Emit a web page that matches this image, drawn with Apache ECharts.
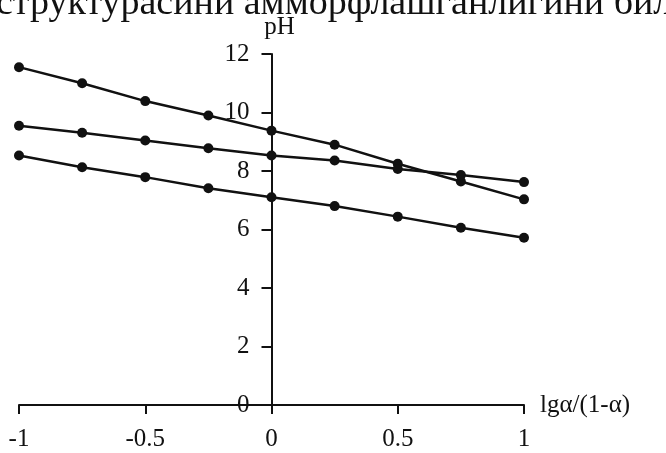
<!DOCTYPE html>
<html>
<head>
<meta charset="utf-8">
<script src="https://cdn.jsdelivr.net/npm/echarts@6/dist/echarts.min.js"></script>
<style>
  html, body { margin: 0; padding: 0; background: #fff; }
  #chart { width: 666px; height: 453px; }
</style>
</head>
<body>
<div id="chart"></div>
<script>
// lg α/(1-α) positions where pH was measured
const xValues = [-1, -0.75, -0.5, -0.25, 0, 0.25, 0.5, 0.75, 1];

// pH curves, one per sample
const phUpper  = [11.55, 11.0, 10.39, 9.9, 9.38, 8.9, 8.25, 7.64, 7.03];
const phMiddle = [9.55, 9.31, 9.04, 8.78, 8.53, 8.36, 8.07, 7.86, 7.62];
const phLower  = [8.53, 8.13, 7.79, 7.41, 7.10, 6.80, 6.44, 6.06, 5.72];

// axis ticks
const xTicks = [-1, -0.5, 0, 0.5, 1];
const yTicks = [0, 2, 4, 6, 8, 10, 12];

const headerText = 'структурасини амморфлашганлигини бил';

const serif = '"Liberation Serif", "Times New Roman", serif';
const ink = '#111';

const W = 666;
const grid = { left: 19, right: 142, top: 54, bottom: 48 };
const xMin = xTicks[0], xMax = xTicks[xTicks.length - 1];

// shift the pH axis from the grid's left edge to where x = 0 lies
const plotWidth = W - grid.left - grid.right;
const yAxisShift = -((0 - xMin) / (xMax - xMin)) * plotWidth;

function pairs(ys) {
  return xValues.map((x, i) => [x, ys[i]]);
}

function curve(ys) {
  return {
    type: 'line',
    data: pairs(ys),
    symbol: 'circle',
    symbolSize: 10,
    showAllSymbol: true,
    lineStyle: { color: ink, width: 2.5 },
    itemStyle: { color: ink },
    silent: true,
    animation: false
  };
}

const chart = echarts.init(document.getElementById('chart'), null, { renderer: 'canvas' });

chart.setOption({
  backgroundColor: '#fff',
  animation: false,
  grid: Object.assign({ containLabel: false, outerBoundsMode: 'none' }, grid),
  graphic: [{
    type: 'text',
    left: -4,
    top: -15,
    style: {
      text: headerText,
      font: '38px ' + serif,
      fill: ink
    }
  }],
  xAxis: {
    type: 'value',
    min: xMin,
    max: xMax,
    interval: 0.5,
    splitLine: { show: false },
    axisLine: { onZero: true, lineStyle: { color: ink, width: 2 } },
    axisTick: { show: true, length: 9, lineStyle: { color: ink, width: 2 } },
    axisLabel: {
      margin: 22,
      color: ink,
      fontFamily: serif,
      fontSize: 25,
      showMinLabel: true,
      showMaxLabel: true,
      formatter: v => String(v)
    },
    name: 'lgα/(1-α)',
    nameLocation: 'end',
    nameGap: 16,
    nameTextStyle: { color: ink, fontFamily: serif, fontSize: 25 }
  },
  yAxis: {
    type: 'value',
    position: 'left',
    offset: yAxisShift,
    min: yTicks[0],
    max: yTicks[yTicks.length - 1],
    interval: 2,
    splitLine: { show: false },
    axisLine: { onZero: false, lineStyle: { color: ink, width: 2 } },
    axisTick: { show: true, length: 10, lineStyle: { color: ink, width: 2 } },
    axisLabel: {
      margin: 22,
      color: ink,
      fontFamily: serif,
      fontSize: 25,
      showMinLabel: true,
      showMaxLabel: true
    },
    name: 'pH',
    nameLocation: 'end',
    nameGap: 14,
    nameTextStyle: { color: ink, fontFamily: serif, fontSize: 25, padding: [0, 0, 0, 16] }
  },
  series: [curve(phUpper), curve(phMiddle), curve(phLower)]
});
</script>
</body>
</html>
